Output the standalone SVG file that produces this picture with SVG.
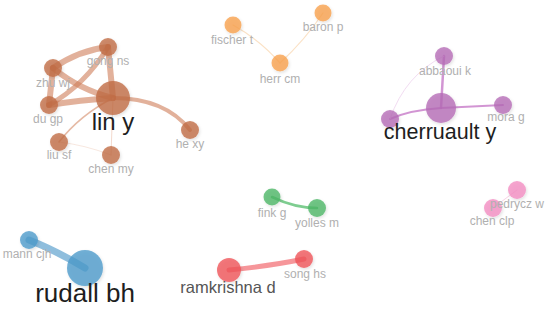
<svg xmlns="http://www.w3.org/2000/svg" width="550" height="310" viewBox="0 0 550 310">
<defs>
<filter id="sh" x="-50%" y="-50%" width="200%" height="200%">
<feDropShadow dx="1" dy="1.5" stdDeviation="1.5" flood-color="#000" flood-opacity="0.15"/>
</filter>
<style>
.n{filter:url(#sh);fill-opacity:0.78}
.br{fill:#c06a42}
.or{fill:#f8a04c}
.pu{fill:#b56ab6}
.bl{fill:#4b9acb}
.gr{fill:#4cb665}
.rd{fill:#ef5257}
.pk{fill:#f48cc2}
.e{fill:none;stroke-linecap:round}
.ebr{stroke:#cf7d58;stroke-opacity:0.6}
.lab{font-family:"Liberation Sans",Arial,sans-serif;font-size:12px;fill:#b0b0b0;text-anchor:middle}
.big{font-family:"Liberation Sans",Arial,sans-serif;fill:#1e1e1e;text-anchor:middle}
</style>
</defs>
<rect width="550" height="310" fill="#fff"/>
<g id="connectors">
<path class="e ebr" stroke-width="6" d="M113,98 L108,47"/>
<path class="e ebr" stroke-width="6" d="M108,47 Q80,50 53,68"/>
<path class="e ebr" stroke-width="6" d="M53,68 Q80,90 113,98"/>
<path class="e ebr" stroke-width="5" d="M49,105 Q85,85 108,47"/>
<path class="e ebr" stroke-width="6" d="M49,105 Q80,100 113,98"/>
<path class="e ebr" stroke-width="6" d="M53,68 L49,105"/>
<path class="e ebr" stroke-width="4" d="M113,98 Q165,98 190,130"/>
<path class="e" stroke="#d48a68" stroke-opacity="0.6" stroke-width="1.5" d="M113,98 Q80,115 59,142"/>
<path class="e" stroke="#e8b49c" stroke-opacity="0.5" stroke-width="1" d="M113,98 L111,155"/>
<path class="e" stroke="#f0cfc0" stroke-opacity="0.5" stroke-width="1" d="M59,142 Q85,145 111,155"/>
<path class="e" stroke="#fbe2c6" stroke-width="1.2" d="M233,25 Q260,40 280,63"/>
<path class="e" stroke="#fbe2c6" stroke-width="1.2" d="M280,63 Q305,40 323,13"/>
<path class="e" stroke="#c77bc8" stroke-opacity="0.8" stroke-width="2.5" d="M441,108 L444,56"/>
<path class="e" stroke="#c77bc8" stroke-opacity="0.8" stroke-width="2" d="M441,108 L503,105"/>
<path class="e" stroke="#c77bc8" stroke-opacity="0.8" stroke-width="2" d="M441,108 Q410,110 390,119"/>
<path class="e" stroke="#f2dcf2" stroke-width="1" d="M444,56 Q405,75 390,119"/>
<path class="e" stroke="#5fa3cf" stroke-opacity="0.7" stroke-width="7" d="M29,240 Q55,250 85,268"/>
<path class="e" stroke="#5ec174" stroke-opacity="0.8" stroke-width="2.5" d="M272,197 Q295,208 317,208"/>
<path class="e" stroke="#f26a6f" stroke-opacity="0.7" stroke-width="5" d="M229,270 Q270,266 304,259"/>
<path class="e" stroke="#f9d2e6" stroke-width="1" d="M517,190 L493,208"/>
</g>
<g id="n-gong-ns"><circle class="n br" cx="108" cy="47" r="9"/><text class="lab" x="108" y="65">gong ns</text></g>
<g id="n-zhu-wj"><circle class="n br" cx="53" cy="68" r="9"/><text class="lab" x="53" y="87">zhu wj</text></g>
<g id="n-du-gp"><circle class="n br" cx="49" cy="105" r="9"/><text class="lab" x="48" y="123">du gp</text></g>
<g id="n-he-xy"><circle class="n br" cx="190" cy="130" r="9"/><text class="lab" x="190" y="148">he xy</text></g>
<g id="n-liu-sf"><circle class="n br" cx="59" cy="142" r="9"/><text class="lab" x="59" y="159">liu sf</text></g>
<g id="n-chen-my"><circle class="n br" cx="111" cy="155" r="9"/><text class="lab" x="111" y="173">chen my</text></g>
<g id="n-lin-y"><circle class="n br" cx="113" cy="98" r="17"/><text class="big" x="113" y="130" font-size="24">lin y</text></g>
<g id="n-fischer-t"><circle class="n or" cx="233" cy="25" r="8.5"/><text class="lab" x="232" y="44">fischer t</text></g>
<g id="n-baron-p"><circle class="n or" cx="323" cy="13" r="8.5"/><text class="lab" x="323" y="31">baron p</text></g>
<g id="n-herr-cm"><circle class="n or" cx="280" cy="63" r="8.5"/><text class="lab" x="280" y="83">herr cm</text></g>
<g id="n-abbaoui-k"><circle class="n pu" cx="444" cy="56" r="9"/><text class="lab" x="445" y="75">abbaoui k</text></g>
<g id="n-mora-g"><circle class="n pu" cx="503" cy="105" r="9"/><text class="lab" x="506" y="121">mora g</text></g>
<g id="n-p4"><circle class="n pu" cx="390" cy="119" r="9"/></g>
<g id="n-cherruault-y"><circle class="n pu" cx="441" cy="108" r="15"/><text class="big" x="440" y="139" font-size="21.5">cherruault y</text></g>
<g id="n-mann-cjh"><circle class="n bl" cx="29" cy="240" r="9"/><text class="lab" x="27" y="258">mann cjh</text></g>
<g id="n-rudall-bh"><circle class="n bl" cx="85" cy="268" r="18"/><text class="big" x="85" y="302" font-size="26">rudall bh</text></g>
<g id="n-fink-g"><circle class="n gr" cx="272" cy="197" r="8.5"/><text class="lab" x="272" y="217">fink g</text></g>
<g id="n-yolles-m"><circle class="n gr" cx="317" cy="208" r="9"/><text class="lab" x="317" y="227">yolles m</text></g>
<g id="n-ramkrishna-d"><circle class="n rd" cx="229" cy="270" r="12"/><text x="228" y="293" font-size="16.5" font-family="Liberation Sans, Arial, sans-serif" fill="#555" text-anchor="middle">ramkrishna d</text></g>
<g id="n-song-hs"><circle class="n rd" cx="304" cy="259" r="9"/><text class="lab" x="305" y="278">song hs</text></g>
<g id="n-pedrycz-w"><circle class="n pk" cx="517" cy="190" r="9"/></g>
<g id="n-chen-clp"><circle class="n pk" cx="493" cy="208" r="9"/><text class="lab" x="492" y="225">chen clp</text></g>
<text class="lab" x="517" y="208">pedrycz w</text>
</svg>
